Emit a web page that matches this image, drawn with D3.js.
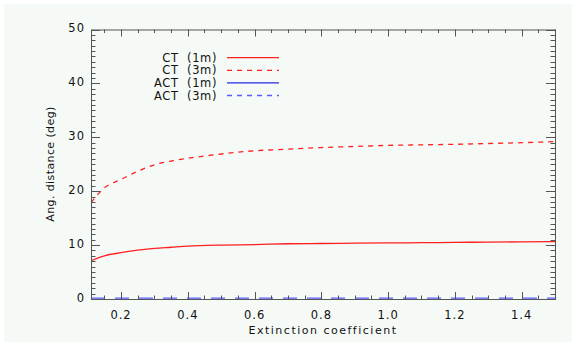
<!DOCTYPE html>
<meta charset="utf-8">
<script src="https://d3js.org/d3.v7.min.js"></script>
<style>
  body { margin: 0; background: #fff; }
  text { font-family: "DejaVu Sans", sans-serif; fill: #111; }
</style>
<div id="chart"></div>
<script>

var extinction = [0.11, 0.15, 0.2, 0.25, 0.3, 0.35, 0.4, 0.5, 0.6, 0.7, 0.8, 0.9, 1.0, 1.1, 1.2, 1.3, 1.4, 1.5]
var ct1m  = [7.1, 8.0, 8.6, 9.05, 9.4, 9.6, 9.8, 10.0, 10.1, 10.25, 10.3, 10.35, 10.4, 10.45, 10.5, 10.55, 10.6, 10.65]
var ct3m  = [17.9, 20.6, 22.2, 23.7, 24.9, 25.6, 26.1, 26.9, 27.5, 27.8, 28.1, 28.3, 28.5, 28.6, 28.7, 28.85, 29.0, 29.2]
var act1m = [-0.1, -0.1, -0.1, -0.1, -0.1, -0.1, -0.1, -0.1, -0.1, -0.1, -0.1, -0.1, -0.1, -0.1, -0.1, -0.1, -0.1, -0.1]
var act3m = [0.15, 0.15, 0.15, 0.15, 0.15, 0.15, 0.15, 0.15, 0.15, 0.15, 0.15, 0.15, 0.15, 0.15, 0.15, 0.15, 0.15, 0.15]
var xTicks = [0.2, 0.4, 0.6, 0.8, 1.0, 1.2, 1.4]
var yTicks = [0, 10, 20, 30, 40, 50]

var width = 576, height = 345,
  plotLeft = 91, plotRight = 555, plotTop = 29.5, plotBottom = 299,
  axisColor = "#555"

var series = [
  {name: "CT  (1m)",  values: ct1m,  color: "#ff2020", dash: null},
  {name: "CT  (3m)",  values: ct3m,  color: "#ff2020", dash: "5,5"},
  {name: "ACT  (1m)", values: act1m, color: "#2a2ae0", dash: null},
  {name: "ACT  (3m)", values: act3m, color: "#5a5aff", dash: "5,5"}
]

var svg = d3.select("#chart").append("svg")
  .attr("width", width).attr("height", height)

svg.append("rect")
  .attr("x", 4).attr("y", 4)
  .attr("width", width - 8).attr("height", height - 7)
  .attr("fill", "#f5faf7")

var x = d3.scaleLinear().domain([0.11, 1.5]).range([plotLeft, plotRight])
var y = d3.scaleLinear().domain([0, 50]).range([plotBottom, plotTop])

svg.append("clipPath").attr("id", "plot")
  .append("rect").attr("x", plotLeft).attr("y", plotTop)
  .attr("width", plotRight - plotLeft).attr("height", plotBottom - plotTop)

// lines first, the frame goes on top of them
var line = d3.line()
  .x(function(d, i){ return x(extinction[i]) })
  .y(function(d){ return y(d) })
  .curve(d3.curveMonotoneX)

svg.append("g").attr("clip-path", "url(#plot)")
  .selectAll("path").data(series).enter().append("path")
  .attr("d", function(d){ return line(d.values) })
  .attr("fill", "none")
  .attr("stroke", function(d){ return d.color })
  .attr("stroke-width", 1.3)
  .attr("stroke-dasharray", function(d, i){ return i == 3 ? "14,10" : d.dash })

// minor ticks
var xMinor = d3.range(0.15, 1.5001, 0.05).filter(function(v){ return Math.abs(v*5 - Math.round(v*5)) > 0.01 })
var yMinor = d3.range(1, 50, 1).filter(function(v){ return v % 10 != 0 })

var gTicks = svg.append("g").attr("stroke", axisColor).attr("stroke-width", 1)

function drawXTicks(yPos, dir) {
  xTicks.concat(xMinor).forEach(function(v){
    var major = xTicks.some(function(t){ return Math.abs(t - v) < 1e-6 })
    var len = major ? 7 : 3.5
    gTicks.append("line")
      .attr("x1", Math.round(x(v)) + 0.5).attr("x2", Math.round(x(v)) + 0.5)
      .attr("y1", yPos).attr("y2", yPos + dir * len)
  })
}
function drawYTicks(xPos, dir) {
  yTicks.concat(yMinor).forEach(function(v){
    var major = v % 10 == 0
    var len = major ? 9 : 4.5
    gTicks.append("line")
      .attr("x1", xPos).attr("x2", xPos + dir * len)
      .attr("y1", Math.round(y(v)) + 0.5).attr("y2", Math.round(y(v)) + 0.5)
  })
}
drawXTicks(plotBottom, -1)
drawXTicks(plotTop, 1)
drawYTicks(plotLeft, 1)
drawYTicks(plotRight, -1)

svg.append("rect")
  .attr("x", plotLeft + 0.5).attr("y", plotTop + 0.5)
  .attr("width", plotRight - plotLeft).attr("height", plotBottom - plotTop)
  .attr("fill", "none").attr("stroke", axisColor)

// tick labels
svg.selectAll(".xlab").data(xTicks).enter().append("text")
  .attr("x", function(d){ return x(d) })
  .attr("y", 318.5)
  .attr("text-anchor", "middle")
  .style("font-size", "11.5px").style("letter-spacing", "1px")
  .text(function(d){ return d.toFixed(1) })

svg.selectAll(".ylab").data(yTicks).enter().append("text")
  .attr("x", 85)
  .attr("y", function(d){ return y(d) + 2.5 })
  .attr("text-anchor", "end")
  .style("font-size", "11.5px").style("letter-spacing", "1px")
  .text(function(d){ return d })

svg.append("text")
  .attr("x", (plotLeft + plotRight) / 2).attr("y", 334)
  .attr("text-anchor", "middle")
  .style("font-size", "11px").style("letter-spacing", "1.5px")
  .text("Extinction coefficient")

svg.append("text")
  .attr("transform", "translate(54," + 164 + ") rotate(-90)")
  .attr("text-anchor", "middle")
  .style("font-size", "11px").style("letter-spacing", "0.4px")
  .text("Ang. distance (deg)")

// legend
var legend = svg.append("g")
legend.selectAll("text").data(series).enter().append("text")
  .attr("x", 217)
  .attr("y", function(d, i){ return 61.8 + i * 12.6 })
  .attr("text-anchor", "end")
  .style("font-size", "11.5px").style("letter-spacing", "0.6px")
  .style("white-space", "pre")
  .text(function(d){ return d.name })

legend.selectAll("line").data(series).enter().append("line")
  .attr("x1", 227).attr("x2", 279)
  .attr("y1", function(d, i){ return 57.7 + i * 12.6 })
  .attr("y2", function(d, i){ return 57.7 + i * 12.6 })
  .attr("stroke", function(d){ return d.color })
  .attr("stroke-width", 1.3)
  .attr("stroke-dasharray", function(d){ return d.dash })

</script>
